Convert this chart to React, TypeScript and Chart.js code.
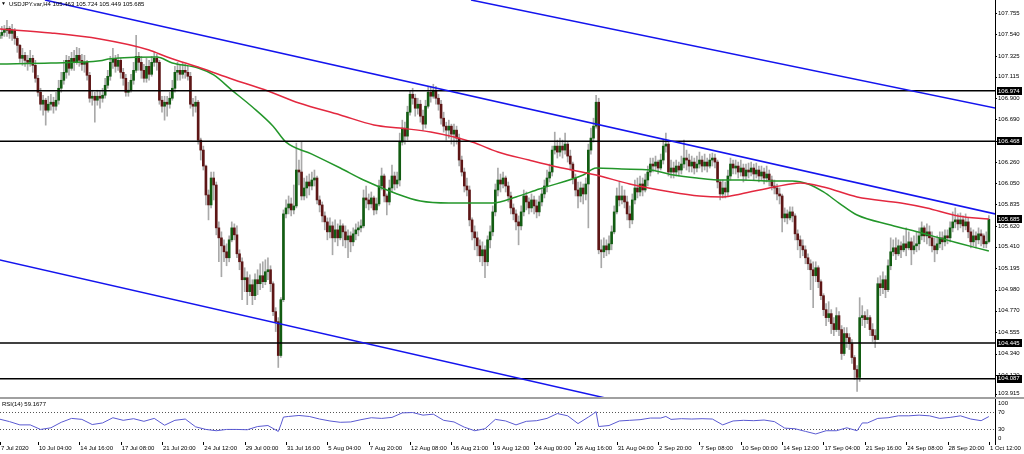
import React, { useEffect, useRef } from "react";
import { Chart, registerables } from "chart.js";

Chart.register(...registerables);

// ---------------- data ----------------
const symbolTitle = "USDJPY.var,H4 105.463 105.724 105.449 105.685";
const rsiTitle = "RSI(14) 59.1677";
const firstOpen = 107.5;

const closes = [
  107.53,107.56,107.58,107.60,107.55,107.58,107.50,107.43,107.30,107.33,
  107.28,107.26,107.30,107.23,107.10,106.96,106.84,106.88,106.78,106.84,
  106.86,106.82,106.88,107.00,107.08,107.16,107.28,107.20,107.30,107.26,
  107.33,107.28,107.24,107.26,107.13,106.90,106.92,106.88,106.92,106.90,
  106.93,107.03,107.12,107.26,107.30,107.22,107.28,107.16,107.10,106.96,
  106.98,107.08,107.18,107.32,107.26,107.18,107.10,107.22,107.14,107.26,
  107.30,107.26,106.88,106.82,106.86,106.84,106.90,107.00,107.16,107.18,
  107.14,107.18,107.16,107.12,106.84,106.82,106.86,106.48,106.38,106.22,
  105.93,105.83,106.10,106.03,105.60,105.50,105.42,105.36,105.30,105.48,
  105.60,105.53,105.34,105.26,105.08,105.10,104.96,105.03,104.92,105.08,
  105.04,105.12,105.06,105.16,105.18,105.04,104.76,104.66,104.32,104.88,
  105.74,105.80,105.84,105.78,105.82,106.18,106.16,105.92,106.00,106.06,
  106.02,106.08,106.10,105.88,105.83,105.72,105.66,105.56,105.62,105.50,
  105.58,105.50,105.62,105.56,105.48,105.52,105.46,105.54,105.58,105.60,
  105.62,105.90,105.88,105.84,105.90,105.78,105.84,106.02,106.12,105.92,
  105.86,106.00,106.12,106.04,106.08,106.46,106.60,106.52,106.76,106.94,
  106.90,106.80,106.84,106.72,106.64,106.82,106.96,106.92,106.98,106.90,
  106.84,106.70,106.62,106.58,106.62,106.54,106.58,106.50,106.28,106.16,
  106.02,105.98,105.68,105.56,105.50,105.42,105.32,105.38,105.26,105.48,
  105.56,105.76,105.98,106.08,106.04,106.10,106.02,105.92,105.80,105.74,
  105.66,105.62,105.76,105.92,105.86,105.80,105.88,105.82,105.76,105.86,
  105.94,106.02,106.10,106.16,106.38,106.42,106.36,106.42,106.38,106.44,
  106.32,106.24,106.10,105.98,105.92,106.00,105.94,106.04,106.38,106.50,
  106.62,106.86,105.38,105.36,105.42,105.38,105.44,105.56,105.76,105.92,
  105.88,105.92,105.86,105.74,105.68,105.88,106.00,105.96,106.04,105.98,
  106.08,106.16,106.24,106.22,106.26,106.20,106.28,106.42,106.44,106.16,
  106.20,106.16,106.22,106.18,106.24,106.30,106.28,106.22,106.26,106.20,
  106.24,106.28,106.22,106.26,106.22,106.28,106.30,106.26,106.06,105.94,
  106.00,105.96,106.12,106.24,106.20,106.22,106.16,106.20,106.12,106.18,
  106.16,106.20,106.14,106.18,106.12,106.16,106.10,106.14,106.08,106.02,
  106.00,105.94,105.92,105.70,105.74,105.70,105.76,105.72,105.54,105.48,
  105.42,105.38,105.30,105.24,105.18,105.12,105.20,105.06,104.92,104.78,
  104.70,104.74,104.64,104.58,104.72,104.58,104.34,104.54,104.50,104.44,
  104.30,104.18,104.10,104.70,104.72,104.68,104.70,104.58,104.52,104.48,
  105.04,105.00,105.08,104.98,105.22,105.36,105.40,105.34,105.42,105.38,
  105.44,105.40,105.46,105.38,105.42,105.44,105.52,105.60,105.52,105.56,
  105.50,105.42,105.38,105.44,105.50,105.46,105.52,105.50,105.60,105.66,
  105.68,105.64,105.68,105.62,105.66,105.56,105.46,105.52,105.48,105.54,
  105.52,105.44,105.463,105.685,
];

const highs = [
  107.60,107.62,107.63,107.68,107.62,107.64,107.60,107.52,107.44,107.40,
  107.36,107.33,107.38,107.33,107.28,107.13,107.00,106.93,106.90,106.92,
  106.94,106.91,106.96,107.08,107.16,107.28,107.33,107.32,107.36,107.38,
  107.41,107.40,107.34,107.33,107.28,107.16,106.98,106.96,106.98,106.98,
  107.00,107.10,107.18,107.32,107.40,107.33,107.34,107.30,107.20,107.14,
  107.06,107.14,107.26,107.53,107.36,107.32,107.24,107.30,107.28,107.32,
  107.36,107.34,107.28,106.92,106.92,106.92,106.96,107.08,107.22,107.26,
  107.24,107.26,107.24,107.22,107.16,106.90,106.92,106.88,106.50,106.42,
  106.23,105.98,106.16,106.16,106.06,105.66,105.56,105.48,105.44,105.52,
  105.66,105.64,105.62,105.38,105.30,105.20,105.16,105.13,105.08,105.14,
  105.18,105.24,105.26,105.28,105.30,105.22,105.06,104.80,104.70,104.90,
  105.78,105.88,105.92,105.90,106.03,106.45,106.28,106.46,106.10,106.12,
  106.14,106.16,106.18,106.12,105.92,105.86,105.76,105.70,105.70,105.66,
  105.68,105.64,105.68,105.64,105.62,105.58,105.56,105.60,105.64,105.66,
  105.68,105.98,106.02,105.94,105.96,105.92,105.90,106.08,106.20,106.14,
  105.94,106.08,106.23,106.16,106.16,106.55,106.68,106.66,106.82,106.98,
  107.00,106.94,106.90,106.88,106.78,106.88,107.02,107.02,107.04,107.02,
  106.94,106.88,106.76,106.66,106.68,106.64,106.64,106.62,106.54,106.32,
  106.20,106.10,106.02,105.70,105.62,105.56,105.48,105.46,105.42,105.52,
  105.62,105.82,106.04,106.20,106.14,106.16,106.12,106.06,105.96,105.84,
  105.78,105.72,105.82,105.98,105.96,105.90,105.94,105.92,105.88,105.92,
  106.00,106.08,106.18,106.24,106.42,106.56,106.48,106.50,106.48,106.55,
  106.46,106.38,106.26,106.14,106.06,106.06,106.04,106.10,106.44,106.60,
  106.70,106.93,106.90,105.48,105.50,105.48,105.52,105.62,105.82,106.00,
  106.06,106.02,105.98,105.92,105.82,105.94,106.08,106.10,106.12,106.10,
  106.14,106.22,106.30,106.30,106.32,106.28,106.34,106.48,106.55,106.48,
  106.28,106.26,106.28,106.26,106.32,106.48,106.38,106.34,106.32,106.30,
  106.32,106.36,106.32,106.34,106.30,106.34,106.35,106.34,106.28,106.08,
  106.08,106.06,106.18,106.30,106.28,106.28,106.26,106.28,106.24,106.24,
  106.25,106.26,106.24,106.25,106.22,106.22,106.20,106.22,106.18,106.12,
  106.08,106.04,106.00,105.94,105.80,105.78,105.81,105.81,105.74,105.58,
  105.52,105.48,105.42,105.34,105.28,105.26,105.26,105.22,105.08,104.94,
  104.84,104.86,104.78,104.70,104.80,104.76,104.62,104.60,104.60,104.54,
  104.48,104.32,104.22,104.90,104.82,104.76,104.78,104.72,104.64,104.58,
  105.10,105.12,105.16,105.12,105.28,105.50,105.48,105.50,105.48,105.46,
  105.52,105.60,105.56,105.50,105.52,105.56,105.60,105.66,105.62,105.64,
  105.62,105.56,105.50,105.52,105.56,105.56,105.58,105.58,105.66,105.76,
  105.80,105.74,105.75,105.72,105.74,105.70,105.60,105.58,105.56,105.60,
  105.58,105.54,105.56,105.724,
];

const lows = [
  107.48,107.50,107.52,107.52,107.50,107.48,107.44,107.36,107.26,107.23,
  107.22,107.18,107.22,107.16,107.06,106.92,106.78,106.73,106.63,106.76,
  106.78,106.75,106.78,106.84,106.96,107.04,107.10,107.13,107.18,107.18,
  107.24,107.22,107.18,107.16,107.08,106.86,106.83,106.66,106.83,106.80,
  106.86,106.90,107.00,107.08,107.20,107.16,107.18,107.10,107.03,106.92,
  106.92,106.96,107.04,107.16,107.18,107.10,107.06,107.06,107.08,107.12,
  107.22,107.18,106.84,106.76,106.68,106.72,106.80,106.88,106.96,107.08,
  107.08,107.10,107.10,107.08,106.80,106.72,106.76,106.44,106.28,106.18,
  105.83,105.68,105.80,105.88,105.53,105.26,105.11,105.26,105.22,105.26,
  105.46,105.48,105.30,105.18,104.88,104.96,104.83,104.92,104.83,104.88,
  104.93,104.98,105.00,105.03,105.08,104.96,104.72,104.56,104.20,104.30,
  104.86,105.70,105.74,105.72,105.74,105.80,106.03,105.88,105.88,105.90,
  105.93,105.98,106.02,105.84,105.76,105.66,105.58,105.48,105.50,105.33,
  105.46,105.42,105.48,105.42,105.40,105.30,105.36,105.42,105.48,105.52,
  105.56,105.60,105.80,105.78,105.80,105.73,105.74,105.82,105.98,105.86,
  105.73,105.83,105.96,105.98,106.00,106.02,106.43,106.44,106.48,106.73,
  106.84,106.72,106.74,106.66,106.58,106.60,106.80,106.86,106.90,106.84,
  106.78,106.64,106.56,106.48,106.50,106.44,106.42,106.44,106.22,106.12,
  105.96,105.92,105.62,105.48,105.38,105.32,105.26,105.22,105.10,105.22,
  105.40,105.52,105.72,105.92,105.96,106.00,105.96,105.86,105.74,105.68,
  105.58,105.43,105.58,105.72,105.78,105.74,105.76,105.74,105.70,105.72,
  105.82,105.90,105.96,106.06,106.12,106.34,106.30,106.32,106.30,106.34,
  106.26,106.18,106.04,105.92,105.80,105.86,105.84,105.88,105.60,106.34,
  106.46,106.60,105.34,105.20,105.30,105.32,105.34,105.38,105.54,105.74,
  105.82,105.84,105.80,105.68,105.60,105.64,105.84,105.90,105.92,105.92,
  105.96,106.02,106.12,106.16,106.18,106.14,106.18,106.24,106.36,106.12,
  106.10,106.10,106.12,106.12,106.14,106.20,106.18,106.16,106.16,106.14,
  106.16,106.20,106.16,106.18,106.16,106.20,106.22,106.20,106.00,105.88,
  105.90,105.90,105.92,106.08,106.14,106.14,106.10,106.12,106.06,106.08,
  106.10,106.12,106.08,106.10,106.06,106.08,106.04,106.06,106.02,105.98,
  105.94,105.88,105.84,105.56,105.66,105.64,105.68,105.66,105.48,105.38,
  105.30,105.32,105.24,105.18,104.98,104.80,105.06,105.00,104.88,104.72,
  104.62,104.66,104.54,104.52,104.56,104.52,104.28,104.32,104.40,104.38,
  104.24,104.08,103.96,104.06,104.62,104.60,104.64,104.52,104.46,104.40,
  104.48,104.92,104.94,104.90,104.96,105.18,105.32,105.28,105.32,105.30,
  105.36,105.32,105.38,105.23,105.34,105.36,105.38,105.48,105.46,105.44,
  105.42,105.36,105.26,105.34,105.40,105.38,105.42,105.44,105.46,105.56,
  105.60,105.58,105.60,105.56,105.58,105.50,105.40,105.42,105.40,105.44,
  105.42,105.40,105.40,105.449,
];

const redMaBars = [0,20,39,58,65,78,90,104,116,132,145,155,167,183,193,205,216,231,244,260,271,280,287,300,310,319,332,349,359,371,383];
const redMaValues = [107.594,107.554,107.494,107.384,107.313,107.203,107.093,106.972,106.852,106.732,106.632,106.601,106.561,106.461,106.361,106.280,106.210,106.130,106.040,105.960,105.920,105.910,105.940,106.010,106.050,106.010,105.910,105.849,105.799,105.719,105.689];

const greenMaBars = [0,20,39,43,61,67,77,83,90,98,106,111,121,132,141,154,163,174,191,200,209,226,231,241,252,261,270,280,287,299,307,313,319,325,332,345,357,371,383];
const greenMaValues = [107.243,107.253,107.275,107.295,107.313,107.253,107.203,107.133,106.982,106.812,106.620,106.460,106.340,106.200,106.080,105.940,105.869,105.849,105.849,105.909,105.990,106.130,106.200,106.190,106.180,106.130,106.100,106.080,106.080,106.070,106.070,106.040,105.960,105.849,105.729,105.629,105.548,105.448,105.368];

const upperTrendBars = [182.6, 387.3];
const upperTrendPrices = [107.885, 106.792];
const middleTrendBars = [17.7, 387.3];
const middleTrendPrices = [107.885, 105.729];
const lowerTrendBars = [0, 260];
const lowerTrendPrices = [105.28, 103.744];

const levelPrices = [106.974, 106.468, 104.445, 104.087];
const lastPrice = 105.685;
const priceTicks = [107.755,107.54,107.325,107.115,106.9,106.69,106.475,106.26,106.05,105.835,105.62,105.41,105.195,104.98,104.77,104.555,104.34,104.12,103.915];

const rsiBars = [0,4,8,12,16,20,24,28,32,36,40,44,48,52,56,60,64,68,72,76,80,84,88,92,96,100,104,108,109,110,112,116,120,124,128,132,136,140,144,148,152,156,160,164,168,172,176,180,184,188,192,196,200,204,208,212,216,220,224,228,230,231,232,236,240,244,248,252,256,258,260,264,268,272,276,280,284,288,292,296,300,304,308,312,316,320,324,328,332,334,336,340,344,348,352,356,360,364,368,372,376,380,383];
const rsiValues = [53.4,47.4,39.8,39.8,29.2,33.0,45.8,54.9,52.6,40.6,44.3,56.4,50.4,54.2,48.1,54.9,39.0,50.4,53.4,35.3,29.2,26.2,29.2,29.2,28.5,36.0,38.3,24.5,40.0,57.9,59.4,61.7,59.4,53.4,48.9,45.8,46.6,51.9,56.4,54.9,57.2,67.7,68.5,62.5,64.7,50.4,46.6,34.5,26.2,30.8,52.6,48.9,39.8,48.1,49.6,54.9,66.2,60.9,42.8,57.9,66.0,70.5,36.0,38.3,48.9,50.4,51.9,55.7,55.7,59.4,52.6,54.2,53.4,54.2,53.4,39.8,48.9,50.4,49.6,51.1,47.4,32.3,30.8,24.7,18.7,26.2,26.2,33.0,26.2,44.3,44.3,54.9,56.4,60.9,60.9,62.5,60.9,54.9,57.2,60.9,53.4,49.6,59.17];
const rsiTicks = [100, 70, 30, 0];
const rsiLevels = [70, 30];

const timeLabelBars = [0.31,15,31,47,63,79,95,111,127,143,159,175,191,207,223,239,255,271,287,303,319,335,351,367,383];
const timeLabels = ["7 Jul 2020","10 Jul 04:00","14 Jul 16:00","17 Jul 08:00","21 Jul 20:00","24 Jul 12:00","29 Jul 00:00","31 Jul 16:00","5 Aug 04:00","7 Aug 20:00","12 Aug 08:00","16 Aug 21:00","19 Aug 12:00","24 Aug 00:00","26 Aug 16:00","31 Aug 04:00","2 Sep 20:00","7 Sep 08:00","10 Sep 00:00","14 Sep 12:00","17 Sep 04:00","21 Sep 16:00","24 Sep 08:00","28 Sep 20:00","1 Oct 12:00"];

// ---------------- styling ----------------
const X_MIN = 0.31;
const X_MAX = 385.37;
const P_MIN = 103.904;
const P_MAX = 107.885;
const AXIS_W = 29;
const FONT = '6px "Liberation Sans", Arial, sans-serif';
const BULL = "#125c12";
const BEAR = "#5e1616";
const WICK = "#a9a9a9";
const BLUE = "#1414ee";
const RED_MA = "#e3283f";
const GREEN_MA = "#23962a";

const pts = (xs: number[], ys: number[]) => xs.map((x, i) => ({ x, y: ys[i] }));

const mainDecor = {
  id: "mainDecor",
  afterDraw(chart: any) {
    const ctx = chart.ctx;
    const ys = chart.scales.y;
    const a = chart.chartArea;
    ctx.save();
    ctx.strokeStyle = "#000";
    ctx.lineWidth = 1;
    ctx.beginPath();
    ctx.moveTo(a.right + 0.5, 0);
    ctx.lineTo(a.right + 0.5, chart.height);
    ctx.stroke();
    ctx.font = FONT;
    ctx.textAlign = "left";
    ctx.textBaseline = "middle";
    ctx.fillStyle = "#000";
    for (const t of priceTicks) {
      const py = Math.min(ys.getPixelForValue(t), chart.height - 3.5);
      const ry = Math.round(py) + 0.5;
      ctx.beginPath();
      ctx.moveTo(a.right, ry);
      ctx.lineTo(a.right + 2, ry);
      ctx.stroke();
      ctx.fillText(t.toFixed(3), a.right + 3, py);
    }
    for (const p of [...levelPrices, lastPrice]) {
      const py = ys.getPixelForValue(p);
      ctx.fillStyle = "#000";
      ctx.fillRect(a.right + 2, Math.round(py) - 4, 25, 8);
      ctx.fillStyle = "#fff";
      ctx.fillText(p.toFixed(3), a.right + 3, py);
    }
    ctx.fillStyle = "#000";
    ctx.font = '5px "Liberation Sans", Arial, sans-serif';
    ctx.fillText("▼", 1, 4);
    ctx.font = FONT;
    ctx.fillText(symbolTitle, 9, 4);
    ctx.restore();
  },
};

const rsiDecor = {
  id: "rsiDecor",
  beforeDatasetsDraw(chart: any) {
    const ctx = chart.ctx;
    const ys = chart.scales.y;
    const a = chart.chartArea;
    ctx.save();
    ctx.strokeStyle = "#555";
    ctx.lineWidth = 1;
    ctx.setLineDash([1, 2]);
    for (const l of rsiLevels) {
      const py = Math.round(ys.getPixelForValue(l)) + 0.5;
      ctx.beginPath();
      ctx.moveTo(a.left, py);
      ctx.lineTo(a.right, py);
      ctx.stroke();
    }
    ctx.restore();
  },
  afterDraw(chart: any) {
    const ctx = chart.ctx;
    const ys = chart.scales.y;
    const xs = chart.scales.x;
    const a = chart.chartArea;
    ctx.save();
    ctx.strokeStyle = "#000";
    ctx.lineWidth = 1;
    ctx.beginPath();
    ctx.moveTo(a.right + 0.5, 0);
    ctx.lineTo(a.right + 0.5, a.bottom + 3);
    ctx.stroke();
    ctx.font = FONT;
    ctx.textAlign = "left";
    ctx.textBaseline = "middle";
    ctx.fillStyle = "#000";
    for (const t of rsiTicks) {
      const py = Math.max(4, Math.min(39, ys.getPixelForValue(t)));
      ctx.fillText(String(t), a.right + 3, py);
    }
    ctx.fillText(rsiTitle, 2, 5);
    timeLabels.forEach((lab, k) => {
      const px = xs.getPixelForValue(timeLabelBars[k]);
      const rx = Math.round(px) + 0.5;
      ctx.beginPath();
      ctx.moveTo(rx, a.bottom);
      ctx.lineTo(rx, a.bottom + 3);
      ctx.stroke();
      ctx.fillText(lab, px + 1, 49);
    });
    ctx.restore();
  },
};

export default function App() {
  const mainRef = useRef<HTMLCanvasElement>(null);
  const rsiRef = useRef<HTMLCanvasElement>(null);

  useEffect(() => {
    const idx = closes.map((_, i) => i);
    const opens = idx.map((i) => (i === 0 ? firstOpen : closes[i - 1]));
    const xScale = { type: "linear", display: false, min: X_MIN, max: X_MAX, offset: false };
    const common = {
      responsive: false,
      animation: false,
      events: [],
      plugins: { legend: { display: false }, tooltip: { enabled: false } },
    };

    const lineDs = (data: any[], color: string, width: number, order: number, extra: any = {}) => ({
      type: "line",
      data,
      borderColor: color,
      borderWidth: width,
      pointRadius: 0,
      fill: false,
      order,
      ...extra,
    });

    const main = new Chart(mainRef.current as HTMLCanvasElement, {
      type: "bar",
      data: {
        datasets: [
          lineDs(pts(upperTrendBars, upperTrendPrices), BLUE, 1.5, 0),
          lineDs(pts(middleTrendBars, middleTrendPrices), BLUE, 1.5, 0),
          lineDs(pts(lowerTrendBars, lowerTrendPrices), BLUE, 1.5, 0),
          ...levelPrices.map((p) => lineDs([{ x: X_MIN, y: p }, { x: X_MAX, y: p }], "#000", 1.5, 1)),
          lineDs(pts(redMaBars, redMaValues), RED_MA, 1.5, 2, { cubicInterpolationMode: "monotone" }),
          lineDs(pts(greenMaBars, greenMaValues), GREEN_MA, 1.5, 3, { cubicInterpolationMode: "monotone" }),
          {
            type: "bar",
            data: idx.map((i) => ({ x: i, y: [opens[i], closes[i]] })),
            backgroundColor: idx.map((i) => (closes[i] >= opens[i] ? BULL : BEAR)),
            barThickness: 2,
            minBarLength: 1,
            grouped: false,
            order: 4,
          },
          {
            type: "bar",
            data: idx.map((i) => ({ x: i, y: [lows[i], highs[i]] })),
            backgroundColor: WICK,
            barThickness: 1,
            grouped: false,
            order: 5,
          },
        ],
      } as any,
      options: {
        ...common,
        layout: { padding: 0 },
        scales: {
          x: xScale,
          y: {
            type: "linear",
            position: "right",
            min: P_MIN,
            max: P_MAX,
            ticks: { display: false },
            grid: { display: false },
            border: { display: false },
            afterFit: (s: any) => {
              s.width = AXIS_W;
            },
          },
        },
      } as any,
      plugins: [mainDecor],
    });

    const rsi = new Chart(rsiRef.current as HTMLCanvasElement, {
      type: "line",
      data: {
        datasets: [
          {
            data: pts(rsiBars, rsiValues),
            borderColor: "#5a5ad2",
            borderWidth: 1,
            pointRadius: 0,
            fill: false,
          },
        ],
      } as any,
      options: {
        ...common,
        layout: { padding: { top: 0, left: 0, right: 0, bottom: 12 } },
        scales: {
          x: xScale,
          y: {
            type: "linear",
            position: "right",
            min: 0,
            max: 100,
            ticks: { display: false },
            grid: { display: false },
            border: { display: false },
            afterFit: (s: any) => {
              s.width = AXIS_W;
            },
          },
        },
      } as any,
      plugins: [rsiDecor],
    });

    return () => {
      main.destroy();
      rsi.destroy();
    };
  }, []);

  return (
    <div
      style={{
        position: "fixed",
        left: 0,
        top: 0,
        width: 1024,
        height: 454,
        background: "#fff",
        overflow: "hidden",
      }}
    >
      <canvas
        ref={mainRef}
        width={1024}
        height={397}
        style={{ position: "absolute", left: 0, top: 0, width: 1024, height: 397 }}
      />
      <div style={{ position: "absolute", left: 0, top: 397, width: 1024, height: 2, background: "#a0a0a0" }} />
      <canvas
        ref={rsiRef}
        width={1024}
        height={55}
        style={{ position: "absolute", left: 0, top: 399, width: 1024, height: 55 }}
      />
    </div>
  );
}
